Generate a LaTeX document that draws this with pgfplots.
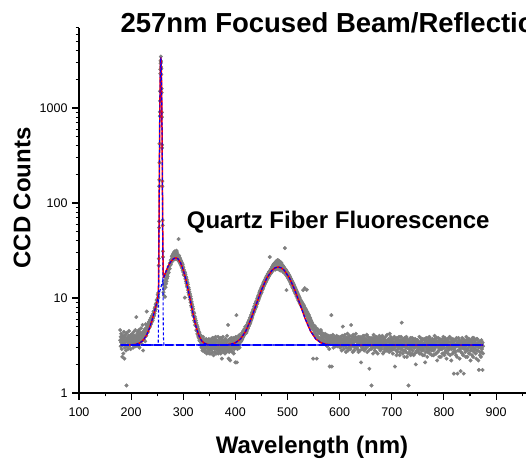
\documentclass[border=0pt]{standalone}
\usepackage{pgfplots}
\pgfplotsset{compat=1.18}
\usepackage{pgfplotstable}
\usepackage{fontspec}
\setmainfont{Liberation Sans}
\definecolor{ptgray}{RGB}{128,128,128}

\pgfplotstableread{
x a b
179 3.6 4.6
180 3.1 3.9
181 4.2 3.4
182 2.9 3.7
183 3.5 2.4
184 4.0 3.2
185 2.6 3.8
186 3.3 4.4
187 2.3 3.6
188 3.9 3.0
189 3.4 4.1
190 2.8 3.5
191 3.7 1.2
192 4.3 3.1
193 3.2 3.8
194 3.6 2.9
195 4.0 3.4
196 3.1 4.5
197 3.8 3.3
198 3.5 4.0
199 2.9 3.7
200 4.1 3.3
201 3.6 3.9
202 3.3 4.2
203 3.9 3.5
204 3.4 3.0
205 4.4 3.7
206 3.2 4.0
207 3.8 3.4
208 3.5 4.6
209 4.0 3.1
210 3.7 6.3
211 3.9 3.3
212 3.5 4.2
213 4.4 3.6
214 3.1 3.9
215 3.8 4.6
216 3.4 3.0
217 4.1 3.7
218 3.6 4.3
219 4.8 3.5
220 3.3 4.0
221 4.2 3.7
222 3.9 5.2
223 2.8 4.4
224 4.1 3.8
225 3.6 4.5
226 4.7 4.0
227 4.2 3.5
228 5.3 4.4
229 4.0 4.8
230 4.6 7.2
231 5.0 4.3
232 4.4 5.3
233 5.1 4.7
234 4.8 5.6
235 5.5 4.9
236 5.0 5.9
237 5.7 5.2
238 5.3 6.2
239 6.0 5.5
240 5.7 6.5
241 6.3 5.8
242 6.8 6.1
243 6.4 7.2
244 7.3 6.6
245 6.9 7.8
246 8.0 7.3
247 7.6 8.6
248 8.8 8.1
249 8.3 9.5
250 9.6 8.9
251 9.9 10.8
252 11.3 10.2
253 22 26
253.5 55 64
254 150 175
254.5 420 265
255 820 910
255.5 1500 1190
256 2300 2550
256.5 3150 2950
257 3480 3100
257.5 3050 2700
258 2600 2250
258.5 1600 1450
259 900 800
259.5 410 380
260 170 150
260.5 66 58
261 27 31
262 11.5 13.8
263 12.4 10.6
264 13.1 14.6
265 10.3 15.2
266 14.8 13.0
267 16.2 14.1
268 15.0 17.3
269 17.8 16.1
270 16.9 19.4
271 19.9 18.2
272 18.6 21.3
273 21.7 20.1
274 20.4 23.0
275 23.5 22.1
276 22.6 25.0
277 25.3 23.7
278 24.1 27.2
279 27.9 25.0
280 25.4 28.6
281 29.3 26.1
282 26.8 30.2
283 28.5 25.5
284 31.0 27.3
285 26.4 29.8
286 28.9 25.7
287 27.1 31.5
288 30.4 26.2
289 25.6 28.8
290 27.8 24.9
291 41.7 26.5
292 24.3 27.9
293 26.6 23.8
294 23.2 25.9
295 25.1 22.6
296 21.9 24.4
297 23.7 21.2
298 20.5 22.9
299 22.3 19.6
300 18.8 21.1
301 19.8 17.6
302 17.2 19.0
303 18.6 10.1
304 15.9 17.7
305 16.8 14.9
306 14.2 16.3
307 15.5 13.4
308 13.0 14.6
309 13.9 12.1
310 11.4 12.9
311 12.3 10.8
312 10.2 11.6
313 11.0 9.6
314 9.0 10.4
315 9.8 8.3
316 8.0 9.1
317 8.6 7.4
318 7.0 8.1
319 7.7 6.6
320 6.4 7.1
321 6.9 5.8
322 5.6 6.4
323 6.1 5.2
324 5.1 5.8
325 5.5 4.6
326 4.5 5.2
327 5.0 4.2
328 4.1 4.8
329 4.6 3.9
330 3.8 4.4
331 4.3 3.6
332 3.5 4.1
333 3.9 3.2
334 3.4 4.0
335 3.7 3.0
336 3.1 3.8
337 3.6 2.8
338 3.3 3.9
339 2.9 3.5
340 3.6 3.1
341 3.2 2.7
342 2.8 3.5
343 3.4 3.0
344 3.0 3.7
345 3.5 2.6
346 3.1 3.6
347 2.7 3.3
348 3.4 2.9
349 3.0 3.7
350 3.5 2.6
351 2.8 3.3
352 3.3 3.0
353 2.6 3.6
354 3.7 2.9
355 3.1 3.4
356 2.7 3.8
357 3.5 3.0
358 3.0 2.5
359 3.8 3.3
360 2.9 3.6
361 3.4 2.7
362 3.1 3.9
363 2.6 3.2
364 3.6 2.9
365 3.2 3.5
366 2.8 3.1
367 3.9 2.6
368 3.0 3.4
369 3.5 2.8
370 2.7 3.7
371 3.3 3.0
372 3.8 2.6
373 2.9 3.4
374 2.3 3.1
375 3.6 2.8
376 3.0 3.9
377 2.7 3.3
378 3.4 2.9
379 3.1 3.6
380 2.6 3.2
381 3.7 2.8
382 3.0 3.5
383 3.4 2.7
384 2.8 4.0
385 3.5 3.1
386 5.2 2.9
387 2.3 3.6
388 3.2 2.7
389 3.7 3.3
390 2.2 3.0
391 3.4 2.8
392 2.9 3.8
393 3.6 3.1
394 3.1 2.7
395 2.7 3.5
396 3.8 3.0
397 3.2 2.6
398 2.9 3.7
399 3.5 3.2
400 3.0 2.1
401 3.9 3.4
402 6.6 3.1
403 2.1 3.6
404 3.3 2.9
405 3.7 3.2
406 3.1 4.0
407 3.6 3.3
408 4.1 3.0
409 3.4 3.8
410 3.9 3.5
411 3.5 4.0
412 4.1 3.6
413 3.7 4.3
414 4.2 3.8
415 3.9 4.5
416 4.4 4.0
417 4.1 4.7
418 4.7 4.3
419 4.4 5.0
420 4.9 4.5
421 4.9 4.3
422 4.5 5.2
423 5.3 4.7
424 4.8 5.5
425 5.6 5.0
426 5.1 5.8
427 5.9 5.3
428 5.4 6.2
429 6.3 5.6
430 5.8 6.6
431 6.7 6.0
432 6.2 7.0
433 7.2 6.5
434 6.8 7.5
435 7.7 7.0
436 7.2 8.1
437 8.3 7.5
438 7.7 8.7
439 8.8 8.0
440 8.2 9.2
441 9.4 8.6
442 8.8 9.9
443 10.2 9.2
444 9.5 10.6
445 10.9 9.8
446 10.2 11.5
447 11.8 10.5
448 10.9 12.1
449 12.4 11.2
450 11.5 12.9
451 13.2 12.0
452 12.3 13.6
453 14.0 12.7
454 13.1 14.5
455 14.9 13.5
456 13.9 15.3
457 15.6 14.3
458 14.6 16.2
459 16.5 15.0
460 15.4 17.0
461 17.3 15.8
462 16.1 17.9
463 18.0 16.5
464 16.9 18.7
465 19.0 17.2
466 27.0 18.9
467 19.6 17.9
468 18.2 20.1
469 20.4 18.6
470 19.0 21.2
471 21.0 19.2
472 19.5 22.0
473 22.4 19.8
474 20.1 22.9
475 23.1 20.3
476 20.5 23.5
477 23.0 19.9
478 21.4 24.2
479 24.6 20.8
480 20.2 23.4
481 22.8 25.0
482 24.9 20.6
483 21.7 23.9
484 19.8 24.5
485 24.1 21.2
486 22.3 19.5
487 20.6 23.7
488 23.5 21.0
489 19.9 22.6
490 22.2 19.3
491 20.4 21.9
492 18.7 21.4
493 21.1 18.5
494 19.0 20.6
495 33.5 18.6
496 18.1 20.1
497 19.8 17.5
498 12.1 19.3
499 18.9 16.9
500 16.7 18.6
501 18.2 16.2
502 15.9 17.8
503 17.4 15.5
504 15.1 17.0
505 16.6 14.8
506 14.4 16.1
507 15.8 13.9
508 13.7 15.3
509 14.9 13.1
510 12.9 14.5
511 14.2 12.6
512 12.2 13.8
513 13.4 11.8
514 11.6 13.0
515 12.7 11.1
516 11.0 12.3
517 12.0 10.5
518 10.4 11.6
519 11.3 10.0
520 9.8 11.0
521 10.7 9.4
522 9.3 10.4
523 10.1 8.9
524 8.8 9.7
525 9.5 8.5
526 8.4 9.3
527 9.1 8.1
528 8.1 8.9
529 8.8 7.8
530 12.1 8.5
531 8.4 7.4
532 7.3 8.2
533 12.7 7.1
534 7.0 7.8
535 7.6 6.8
536 6.6 7.4
537 12.2 6.5
538 6.4 7.1
539 6.9 6.1
540 5.9 6.7
541 6.6 5.7
542 5.6 6.3
543 6.2 5.4
544 5.3 6.0
545 5.8 5.1
546 5.0 5.6
547 5.5 4.8
548 4.7 5.3
549 5.2 2.3
550 4.6 5.0
551 4.9 4.3
552 4.4 5.1
553 4.8 4.1
554 4.2 4.9
555 4.6 4.0
556 4.1 2.3
557 4.5 3.9
558 3.9 4.7
559 4.4 3.8
560 3.8 4.5
561 4.3 3.7
562 3.6 4.4
563 4.2 3.5
564 3.8 4.6
565 3.5 4.1
566 4.3 3.6
567 3.7 4.0
568 3.4 4.2
569 4.1 3.6
570 3.6 3.9
571 4.0 3.3
572 3.5 4.2
573 3.9 3.4
574 3.3 3.8
575 4.1 3.5
576 3.6 3.1
577 3.2 3.9
578 3.8 3.4
579 3.4 4.0
580 2.9 3.6
581 3.7 1.9
582 3.3 3.9
583 4.0 3.5
584 3.5 6.6
585 1.9 3.8
586 3.8 3.4
587 3.4 4.1
588 3.0 3.6
589 3.6 3.2
590 3.9 3.5
591 3.3 3.8
592 3.7 3.1
593 3.2 3.6
594 3.5 4.0
595 3.9 3.3
596 3.1 3.7
597 3.6 3.4
598 3.4 3.9
599 3.8 3.2
600 3.3 3.6
601 3.5 3.0
602 3.9 3.3
603 3.1 3.7
604 3.6 2.8
605 3.3 4.0
606 5.0 3.4
607 3.7 3.1
608 2.9 3.6
609 3.4 3.9
610 4.1 3.2
611 3.2 3.5
612 3.6 2.7
613 3.0 3.8
614 3.8 3.3
615 3.3 4.2
616 2.8 3.5
617 3.7 3.0
618 3.4 3.9
619 4.0 3.2
620 3.1 3.6
621 3.5 2.9
622 5.2 3.7
623 3.3 3.1
624 3.9 3.5
625 2.7 3.2
626 3.6 4.1
627 3.2 3.4
628 3.8 2.8
629 3.0 3.6
630 3.5 3.9
631 4.2 3.1
632 3.1 3.5
633 3.6 3.0
634 2.9 3.8
635 3.4 3.3
636 3.9 2.7
637 3.2 3.6
638 3.7 3.2
639 2.8 3.9
640 3.5 3.4
641 2.1 3.1
642 3.3 3.7
643 3.8 2.9
644 3.0 3.5
645 3.6 4.0
646 3.2 3.3
647 4.0 2.8
648 3.4 3.7
649 2.9 3.2
650 3.7 3.6
651 3.1 3.0
652 3.5 4.1
653 2.7 3.4
654 3.9 3.1
655 3.3 3.6
656 3.6 2.8
657 1.8 3.3
658 3.2 3.8
659 3.7 2.9
660 2.9 3.5
661 3.4 1.2
662 3.8 3.1
663 3.0 3.7
664 3.5 2.6
665 4.1 3.3
666 3.2 3.8
667 2.8 3.4
668 3.6 3.0
669 3.3 3.9
670 3.9 2.7
671 3.1 3.5
672 3.5 3.2
673 2.6 3.8
674 3.7 3.0
675 3.4 3.6
676 3.0 4.0
677 3.8 3.3
678 3.2 2.8
679 3.6 3.5
680 2.9 3.1
681 3.4 3.9
682 4.0 3.2
683 3.1 2.6
684 3.5 3.7
685 2.7 3.3
686 3.7 2.9
687 3.3 3.6
688 3.9 3.1
689 3.0 3.4
690 3.5 2.8
691 3.2 4.1
692 2.8 3.5
693 3.6 3.0
694 3.1 3.7
695 3.4 2.7
696 4.2 3.2
697 2.9 3.6
698 3.3 3.9
699 3.7 2.8
700 3.0 3.4
701 3.5 3.1
702 2.6 3.7
703 3.3 2.9
704 3.8 3.4
705 3.1 3.9
706 1.9 3.0
707 3.4 3.6
708 2.8 3.2
709 3.7 2.5
710 3.2 3.8
711 2.7 3.3
712 3.5 2.9
713 3.0 3.6
714 3.9 3.1
715 2.5 3.5
716 3.3 2.7
717 3.6 3.4
718 2.9 3.9
719 5.5 3.0
720 3.2 3.6
721 2.6 3.2
722 3.7 2.8
723 3.1 3.5
724 3.4 2.4
725 2.8 3.8
726 3.6 3.1
727 3.0 2.7
728 3.9 3.4
729 2.4 3.0
730 3.3 3.7
731 3.0 2.6
732 1.2 3.3
733 3.5 2.9
734 2.7 3.6
735 3.2 3.0
736 3.8 2.5
737 2.9 3.4
738 3.4 3.1
739 2.6 3.8
740 3.6 2.8
741 3.1 3.3
742 2.5 3.7
743 3.5 3.0
744 3.0 2.6
745 3.7 3.4
746 2.0 3.1
747 3.3 2.7
748 2.8 3.6
749 3.6 3.2
750 3.1 2.9
751 2.7 3.5
752 3.4 3.0
753 3.9 2.6
754 2.9 3.4
755 3.2 3.8
756 2.6 3.1
757 3.5 2.8
758 3.0 3.6
759 3.7 2.5
760 2.8 3.3
761 3.3 2.9
762 2.5 3.7
763 3.6 3.1
764 2.1 3.4
765 3.1 2.7
766 3.8 3.2
767 2.9 3.6
768 3.4 2.4
769 2.7 3.0
770 3.5 3.8
771 3.0 2.8
772 3.9 3.3
773 2.6 3.6
774 3.2 2.9
775 3.7 3.4
776 2.8 3.1
777 3.4 2.5
778 3.0 3.7
779 3.6 3.2
780 2.5 2.8
781 3.3 3.5
782 2.9 4.0
783 3.7 3.0
784 3.1 2.6
785 2.6 3.4
786 3.5 3.8
787 2.2 3.1
788 3.2 2.7
789 3.8 3.5
790 2.8 3.0
791 3.4 2.4
792 3.0 3.7
793 3.6 3.2
794 2.4 2.9
795 3.3 3.6
796 2.9 3.1
797 3.7 2.6
798 3.1 3.4
799 2.6 3.9
800 3.5 3.0
801 3.0 2.5
802 3.8 3.3
803 2.7 3.6
804 3.3 2.8
805 2.3 3.4
806 3.6 3.0
807 3.1 3.7
808 2.8 2.6
809 3.5 3.2
810 3.0 3.8
811 3.9 2.9
812 2.5 3.4
813 3.2 3.0
814 3.7 2.2
815 2.9 3.5
816 3.4 3.1
817 2.6 3.7
818 3.1 2.7
819 1.6 3.3
820 3.5 2.9
821 3.0 3.6
822 2.7 3.2
823 3.6 2.5
824 3.2 3.8
825 2.4 3.1
826 1.6 3.4
827 3.3 2.8
828 3.8 3.2
829 2.8 3.6
830 3.4 2.3
831 2.9 3.0
832 1.7 3.5
833 3.5 2.7
834 3.1 3.3
835 2.6 3.8
836 3.7 3.0
837 3.2 2.5
838 1.6 3.4
839 3.0 2.9
840 3.6 3.5
841 2.7 3.1
842 3.3 2.4
843 3.9 3.2
844 2.9 3.6
845 2.4 2.8
846 3.4 3.3
847 3.0 3.7
848 3.7 2.6
849 2.6 3.1
850 3.2 3.5
851 2.8 2.2
852 3.6 3.0
853 3.1 3.4
854 2.5 2.8
855 3.4 3.8
856 3.0 2.4
857 3.8 3.2
858 2.7 3.6
859 3.3 2.9
860 2.9 3.4
861 3.6 2.6
862 2.3 3.1
863 3.2 3.7
864 3.7 2.8
865 2.8 3.3
866 3.4 2.2
867 1.75 3.0
868 3.1 3.5
869 2.5 2.7
870 3.5 3.2
871 3.0 2.4
872 2.7 3.6
873 3.3 2.9
874 1.75 3.4
875 3.1 2.6
}\scatterdata

\begin{document}
\begin{tikzpicture}[x=1pt,y=1pt]
\useasboundingbox (0,0) rectangle (526,468);
\clip (0,0) rectangle (526,468);
\begin{axis}[
  at={(79pt,75pt)}, anchor=south west,
  scale only axis, width=469.2pt, height=365.3pt,
  xmin=100, xmax=1000, ymode=log, ymin=1, ymax=7000,
  clip mode=individual,
  axis lines=left,
  axis line style={-, line width=1.2pt},
  every outer x axis line/.append style={-},
  every outer y axis line/.append style={-},
  tick align=outside,
  major tick length=7pt, minor tick length=3.5pt,
  tick style={line width=1.1pt, black},
  xtick={100,200,300,400,500,600,700,800,900,1000},
  xticklabels={100,200,300,400,500,600,700,800,900,{}},
  minor xtick={150,250,350,450,550,650,750,850,950},
  ytick={1,10,100,1000},
  yticklabels={1,10,100,1000},
  minor ytick={2,3,4,5,6,7,8,9,20,30,40,50,60,70,80,90,200,300,400,500,600,700,800,900,2000,3000,4000,5000,6000,7000},
  every tick label/.append style={font=\fontsize{12.5}{14}\selectfont},
  xticklabel style={yshift=-4pt},
  yticklabel style={xshift=-1pt},
  /pgf/number format/assume math mode=true,
]
\addplot[only marks, mark=*, mark size=1.8pt, ptgray, mark options={draw=none, fill=ptgray}] table[x=x, y=a] {\scatterdata};
\addplot[only marks, mark=*, mark size=1.8pt, ptgray, mark options={draw=none, fill=ptgray}] table[x=x, y=b] {\scatterdata};
% total fit
\addplot[red, line width=1.5pt] coordinates {
(180,3.2) (190,3.2) (200,3.21) (205,3.23) (210,3.26) (215,3.33) (220,3.46) (225,3.70) (230,4.11) (235,4.78) (240,5.81) (245,7.29) (250,9.28) (251,10.0) (252,10.83) (252.5,13.5) (253,23.7) (253.5,59.0) (254,160.3) (254.5,399.5) (255,858.8) (255.5,1569) (256,2414) (256.5,3131) (257,3413) (257.5,3131) (258,2416) (258.5,1571) (259,861) (259.5,402) (260,164) (260.5,63) (261,28.4) (261.5,18.7) (262,16.6) (263,16.6) (265,17.9) (270,21.0) (275,23.67) (280,25.55) (283,26.18) (286,26.4) (290,25.77) (295,23.37) (300,19.73) (305,15.62) (310,11.76) (315,8.61) (320,6.34) (325,4.87) (330,4.01) (335,3.56) (340,3.35) (345,3.26) (350,3.22) (360,3.2) (380,3.21) (390,3.25) (400,3.38) (410,3.71) (420,4.49) (430,6.02) (440,8.57) (450,12.12) (460,16.12) (470,19.51) (476,20.76) (482,21.2) (488,20.76) (494,19.51) (504,16.12) (514,12.12) (524,8.57) (534,6.02) (544,4.49) (554,3.71) (564,3.38) (574,3.25) (584,3.21) (600,3.2) (875,3.2)
};
% baseline
\addplot[blue, line width=1.1pt, dash pattern=on 8pt off 3pt] coordinates {(180,3.2) (875,3.2)};
% component 1
\addplot[blue, line width=1.1pt, dash pattern=on 3pt off 2pt] coordinates {
(180,3.2) (200,3.21) (210,3.26) (220,3.46) (225,3.70) (230,4.11) (235,4.78) (240,5.81) (245,7.29) (250,9.28) (255,11.8) (260,14.74) (265,17.91) (270,21.01) (275,23.67) (280,25.55) (283,26.18) (286,26.4) (290,25.77) (295,23.37) (300,19.73) (305,15.62) (310,11.76) (315,8.61) (320,6.34) (325,4.87) (330,4.01) (335,3.56) (340,3.35) (345,3.26) (350,3.22) (360,3.2) (875,3.2)
};
% laser line component
\addplot[blue, line width=1.1pt, dash pattern=on 3pt off 2pt] coordinates {
(180,3.2) (252,3.2) (252.5,6.2) (253,16.2) (253.5,51.2) (254,152) (254.5,391) (255,850) (255.5,1560) (256,2405) (256.5,3121) (257,3403) (257.5,3121) (258,2405) (258.5,1560) (259,850) (259.5,391) (260,152) (260.5,51.2) (261,16.2) (261.5,6.2) (262,3.8) (263,3.2) (875,3.2)
};
% component 2
\addplot[blue, line width=1.1pt, dash pattern=on 3pt off 2pt] coordinates {
(180,3.2) (380,3.21) (390,3.25) (400,3.38) (410,3.71) (420,4.49) (430,6.02) (440,8.57) (450,12.12) (460,16.12) (470,19.51) (476,20.76) (482,21.2) (488,20.76) (494,19.51) (504,16.12) (514,12.12) (524,8.57) (534,6.02) (544,4.49) (554,3.71) (564,3.38) (574,3.25) (584,3.21) (600,3.2) (875,3.2)
};
\end{axis}
\node[anchor=base west, font=\fontsize{27.5}{31}\selectfont\bfseries] at (117,435) {257nm Focused Beam/Reflection};
\node[anchor=base west, font=\fontsize{24}{28}\selectfont\bfseries] at (183.3,239.7) {Quartz Fiber Fluorescence};
\node[font=\fontsize{24}{28}\selectfont\bfseries] at (312,21) {Wavelength (nm)};
\node[rotate=90, font=\fontsize{24}{28}\selectfont\bfseries] at (22,270) {CCD Counts};
\end{tikzpicture}
\end{document}
